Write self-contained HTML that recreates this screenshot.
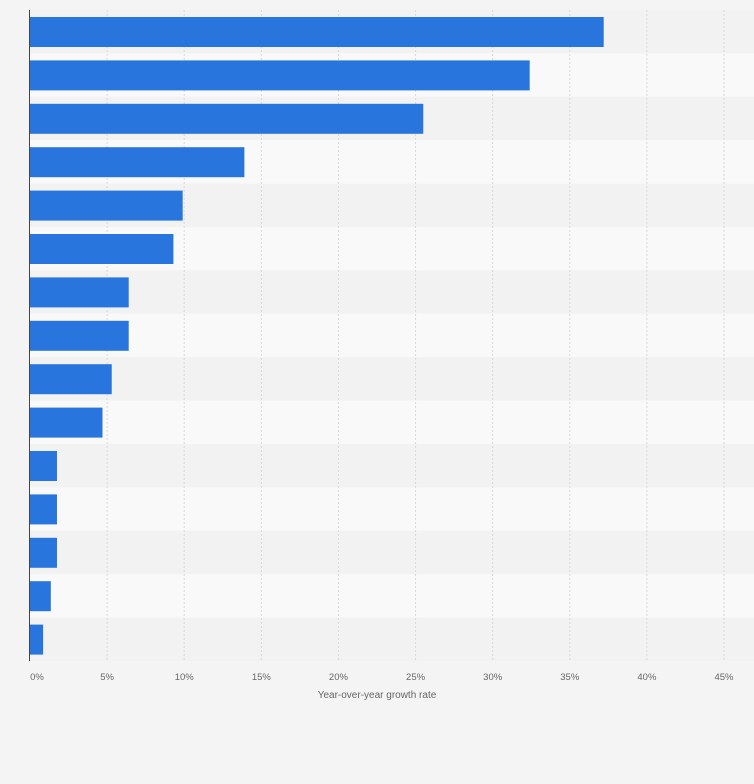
<!DOCTYPE html>
<html><head><meta charset="utf-8"><style>
body{margin:0;background:#f4f4f4;font-family:"Liberation Sans",sans-serif}
</style></head><body>
<svg width="754" height="779" xmlns="http://www.w3.org/2000/svg">
<rect width="754" height="779" fill="#f4f4f4"/>
<g id="rows"></g><g id="grid"></g><g id="bars"></g><g id="ticks"></g>
<line x1="29.5" y1="10" x2="29.5" y2="661" stroke="#444" stroke-width="1"/>
<text x="377" y="698" font-size="10" fill="#666" text-anchor="middle">Year-over-year growth rate</text>
</svg>
<script>
const values=[37.2,32.4,25.5,13.9,9.9,9.3,6.4,6.4,5.3,4.7,1.75,1.75,1.75,1.35,0.85];
const ticks=[0,5,10,15,20,25,30,35,40,45];
const tickLabels=["0%","5%","10%","15%","20%","25%","30%","35%","40%","45%"];
const NS="http://www.w3.org/2000/svg";
const x0=30,x1=724,yTop=10,yBottom=661,xmax=45;
const xs=v=>x0+v/xmax*(x1-x0);
const rowH=(yBottom-yTop)/values.length;
function mk(t,a,p){const e=document.createElementNS(NS,t);for(const k in a)e.setAttribute(k,a[k]);document.getElementById(p).appendChild(e);return e;}
values.forEach((v,i)=>{
 const r=mk('rect',{x:x0,y:yTop+i*rowH,width:x1-x0+30,height:rowH,fill:i%2?'#f9f9f9':'#f2f2f2'},'rows');
 
 
});
ticks.forEach((t,i)=>{
 if(t>0){const g=mk('line',{x1:xs(t),x2:xs(t),y1:yTop,y2:yBottom,stroke:'#d8d8d8','stroke-dasharray':'2,2'},'grid');
 
 }
 const tx=mk('text',{x:xs(t)+(i==0?7:0),y:680,'font-size':9.5,fill:'#666','text-anchor':'middle'},'ticks');
 tx.textContent=tickLabels[i];
 
 
});
values.forEach((v,i)=>{
 const b=mk('rect',{x:x0,y:yTop+i*rowH+7,width:xs(v)-x0,height:30,fill:'#2876dd'},'bars');
 
 
});
</script>
</body></html>
